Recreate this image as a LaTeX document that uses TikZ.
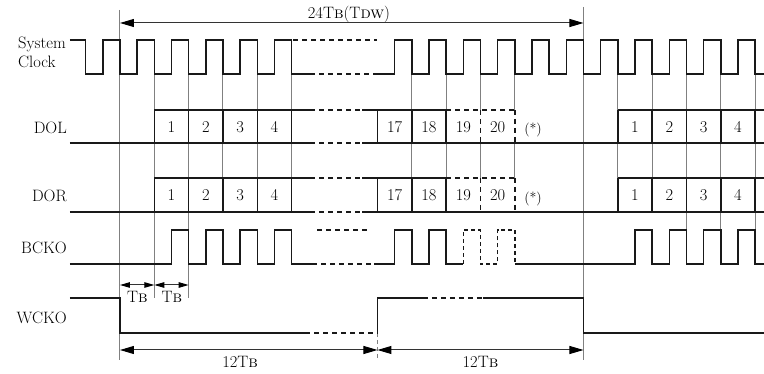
\documentclass[tikz,border=0pt]{standalone}
\usetikzlibrary{arrows.meta}
\begin{document}
\begin{tikzpicture}[x=17.1667pt, y=-1pt]
\tikzset{
  wave/.style={line width=1.5pt, draw=black!90, line join=miter},
  guide/.style={line width=1pt, draw=black!50},
  dsh/.style={dash pattern=on 5pt off 4pt},
  lbl/.style={font=\fontsize{16.5}{18}\selectfont, text=black, inner sep=0pt},
  small/.style={font=\fontsize{14}{16}\selectfont, text=black, inner sep=0pt},
  dim/.style={line width=1pt, draw=black!80},
  bigtip/.tip={Triangle[length=14pt,width=8pt,color=black]},
  smalltip/.tip={Triangle[length=10pt,width=5.5pt,color=black]},
}
\useasboundingbox (-6.990,0) rectangle (37.515,374);

% ---------- guide lines ----------
\draw[guide] (0,10) -- (0,360);
\draw[guide] (27,7) -- (27,360);
\foreach \k in {2,4} \draw[guide] (\k,74) -- (\k,298);
\foreach \k in {6,8,10,17,19,29,31} \draw[guide] (\k,74) -- (\k,212);
\foreach \k in {21,23} {
  \draw[guide] (\k,74) -- (\k,110);
  \draw[guide] (\k,143) -- (\k,178);
}
\foreach \k in {33,35,37} \draw[guide] (\k,74) -- (\k,230);
\draw[guide, dash pattern=on 4pt off 3pt] (15,333) -- (15,360);

% ---------- labels ----------
\node[lbl, anchor=west] (lsys) at (-5.942,44) {System};
\node[lbl, anchor=west] (lclk) at (-5.942,62) {Clock};
\node[lbl, anchor=east] (ldol) at (-3.087,128) {DOL};
\node[lbl, anchor=east] (ldor) at (-3.087,196) {DOR};
\node[lbl, anchor=east] (lbck) at (-3.087,248) {BCKO};
\node[lbl, anchor=east] (lwck) at (-3.087,318) {WCKO};

% ---------- system clock ----------
\draw[wave] (-2.913,40) -- (-2,40) -- (-2,74)
  \foreach \k in {-1,1,...,9} { -- (\k,74) -- (\k,40) -- (\k+1,40) -- (\k+1,74) }
  -- (11.07,74);
\draw[wave, dsh] (11.07,74) -- (15,74);
\draw[wave, dsh] (10.1,40) -- (15,40);
\draw[wave] (15,74) -- (16,74)
  \foreach \k in {16,18,...,36} { -- (\k,74) -- (\k,40) -- (\k+1,40) -- (\k+1,74) }
  -- (37.515,74);

% ---------- DOL / DOR ----------
\foreach \yt/\yb/\nm/\yn/\ys in {110/143/dol/127/130, 178/212/dor/195/199} {
  \draw[wave] (-2.913,\yb) -- (11.07,\yb);
  \draw[wave, dsh] (11.07,\yb) -- (14.1,\yb);
  \draw[wave] (14.1,\yb) -- (37.515,\yb);
  \draw[wave] (2,\yt) -- (11.07,\yt);
  \draw[wave, dsh] (11.07,\yt) -- (14.1,\yt);
  \draw[wave] (14.1,\yt) -- (19,\yt);
  \draw[wave, dsh] (19,\yt) -- (23,\yt);
  \draw[wave] (29,\yt) -- (37.515,\yt);
  \foreach \k in {2,4,6,8,10,15,17,19,29,31,33,35,37}
    \draw[wave] (\k,\yt) -- (\k,\yb);
  \foreach \k in {21,23}
    \draw[wave, dsh] (\k,\yt) -- (\k,\yb);
  \foreach \n/\k in {1/3,2/5,3/7,4/9,17/16,18/18,19/20,20/22}
    \node[lbl] (\nm\n) at (\k,\yn) {\n};
  \foreach \n/\k in {1/30,2/32,3/34,4/36}
    \node[lbl] (\nm r\n) at (\k,\yn) {\n};
  \node[small] (\nm star) at (24.06,\ys) {(*)};
}

% ---------- BCKO ----------
\draw[wave] (-2.913,264) -- (3,264)
  \foreach \k in {3,5,7,9} { -- (\k,264) -- (\k,230) -- (\k+1,230) -- (\k+1,264) }
  -- (11.2,264);
\draw[wave, dsh] (11.2,264) -- (14.8,264);
\draw[wave, dsh] (11.48,230) -- (14.45,230);
\draw[wave] (14.8,264) -- (16,264)
  \foreach \k in {16,18} { -- (\k,264) -- (\k,230) -- (\k+1,230) -- (\k+1,264) }
  -- (20,264);
\draw[wave, dash pattern=on 4pt off 3pt] (20,264)
  \foreach \k in {20,22} { -- (\k,264) -- (\k,230) -- (\k+1,230) -- (\k+1,264) };
\draw[wave] (23,264) -- (30,264)
  \foreach \k in {30,32,34,36} { -- (\k,264) -- (\k,230) -- (\k+1,230) -- (\k+1,264) }
  -- (37.515,264);

% ---------- WCKO ----------
\draw[wave] (-2.913,298) -- (0,298) -- (0,333) -- (10.78,333);
\draw[wave, dsh] (10.78,333) -- (15,333);
\draw[wave] (15,333) -- (15,298) -- (17.65,298);
\draw[wave, dsh] (17.65,298) -- (21.14,298);
\draw[wave] (21.14,298) -- (27,298) -- (27,333) -- (37.515,333);

% ---------- dimensions ----------
\draw[dim, bigtip-bigtip] (0,23) -- (27,23);
\node[lbl] (ltop) at (13.34,14) {24T\textsc{b}(T\textsc{dw})};

\draw[dim, smalltip-smalltip] (0,285) -- (2,285);
\draw[dim, smalltip-smalltip] (2,285) -- (4,285);
\node[lbl] (ltb1) at (1.02,297) {T\textsc{b}};
\node[lbl] (ltb2) at (3.02,297) {T\textsc{b}};

\draw[dim, bigtip-bigtip] (0,350) -- (15,350);
\draw[dim, bigtip-bigtip] (15,350) -- (27,350);
\node[lbl] (l12a) at (7.0,362) {12T\textsc{b}};
\node[lbl] (l12b) at (21.0,362) {12T\textsc{b}};
\end{tikzpicture}
\end{document}
